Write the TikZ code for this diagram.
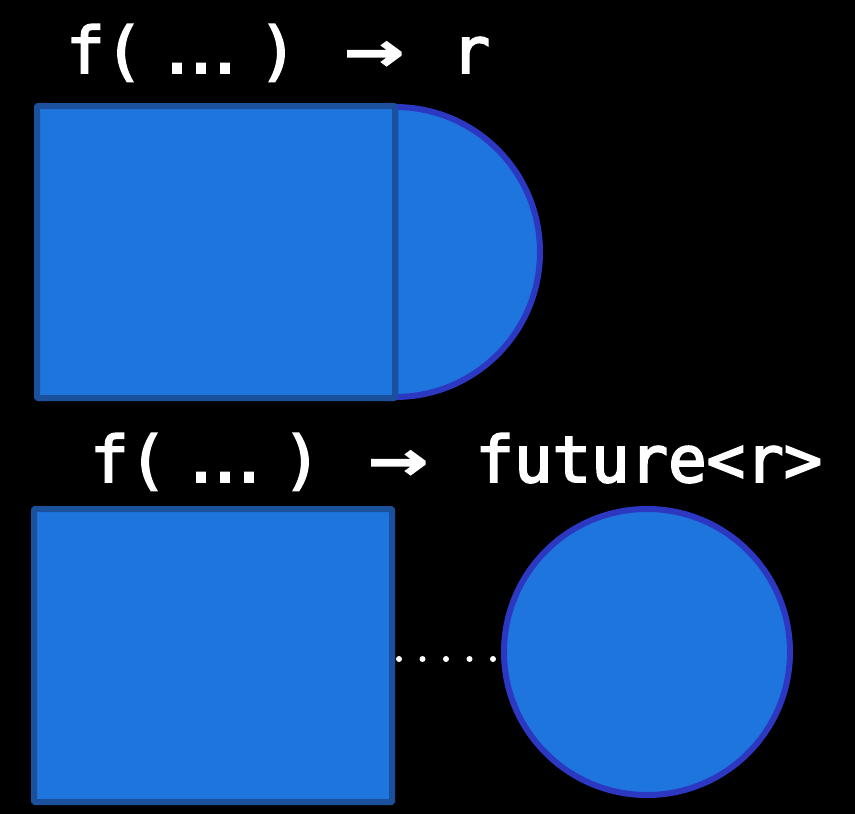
\documentclass[tikz,border=0pt]{standalone}
\usepackage{fontspec}
\newfontfamily\codefont{DejaVu Sans Mono}[FakeBold=3]
\usetikzlibrary{positioning}

\definecolor{fillblue}{HTML}{1E75DD}
\definecolor{edgeblue}{HTML}{1A509C}
\definecolor{ringblue}{HTML}{2C38C2}

\tikzset{
  sig/.style={text=white, font=\codefont\fontsize{64}{64}\selectfont,
    inner sep=0pt, anchor=base west},
  callbox/.style={draw=edgeblue, fill=fillblue, line width=6pt,
    minimum width=358pt, inner sep=0pt, rounded corners=1pt},
  result/.style={draw=ringblue, fill=fillblue, line width=6pt},
}
\newcommand{\ligarrow}{\makebox[1.204em]{\scalebox{1.5}[1.1]{→}}}
\newcommand{\argdots}{\makebox[0.602em]{\makebox[0pt]{.\kern-0.227em.\kern-0.227em.}}}

\begin{document}
\begin{tikzpicture}[x=1pt, y=-1pt]
    \fill[black] (0,0) rectangle (855,814);
    % blocking call: value comes back attached
    \node[sig] (sigsync) at (66,73) {f(~\argdots~)~\ligarrow{}~r};
    \draw[result] (395,107) arc[start angle=-90, end angle=90, radius=145] -- cycle;
    \node[callbox, minimum height=292pt] (callsync) at (216,252) {};
    % async call: value comes later
    \node[sig] (sigasync) at (90,482) {f(~\argdots~)~\ligarrow{}~future<r>};
    \node[callbox, minimum height=293pt] (callasync) at (213,655.5) {};
    \node[result, circle, minimum size=286pt, inner sep=0pt] (fut) at (647,652) {};
    \draw[white, line width=6pt, line cap=round, dash pattern=on 0pt off 23.5pt,
      shorten <=4pt, shorten >=8pt]
      ([yshift=-3.5pt]callasync.east) -- ([yshift=-7pt]fut.west);
\end{tikzpicture}
\end{document}
